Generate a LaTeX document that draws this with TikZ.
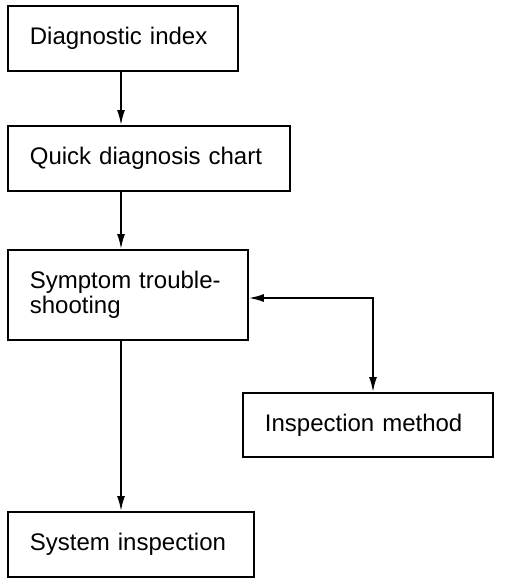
\documentclass[tikz,border=0pt]{standalone}
\usepackage{fontspec}
\setmainfont{Liberation Sans}
\usetikzlibrary{arrows.meta}
\begin{document}
\begin{tikzpicture}[x=1pt,y=-1pt,
  box/.style={draw, line width=1.8pt, rectangle, anchor=north west, inner xsep=22pt, inner ysep=0pt,
    align=left, font=\fontsize{24}{25.5}\selectfont},
  conn/.style={line width=1.8pt, -{Latex[length=15pt,width=8pt]}},
  dconn/.style={line width=1.8pt, {Latex[length=15pt,width=8pt]}-{Latex[length=15pt,width=8pt]}}]
\useasboundingbox (0,0) rectangle (512,584);
\node[box, minimum width=230pt, minimum height=65pt, text width=186pt] (b1) at (7,5) {Diagnostic index};
\node[box, minimum width=282pt, minimum height=65pt, text width=238pt] (b2) at (7,125) {Quick diagnosis chart};
\node[box, minimum width=240pt, minimum height=90pt, text width=196pt] (b3) at (7,249) {Symptom trouble-\\shooting};
\node[box, minimum width=250pt, minimum height=64pt, text width=206pt] (b4) at (242,392) {Inspection method};
\node[box, minimum width=246pt, minimum height=65pt, text width=202pt] (b5) at (7,511) {System inspection};
\coordinate (c1) at (121,0);
\draw[conn] (b1.south -| c1) -- (b2.north -| c1);
\draw[conn] (b2.south -| c1) -- (b3.north -| c1);
\draw[conn] (b3.south -| c1) -- (b5.north -| c1);
\coordinate (c2) at (373,298);
\draw[dconn] (b3.east |- c2) -- (c2) -- (b4.north -| c2);
\end{tikzpicture}
\end{document}
